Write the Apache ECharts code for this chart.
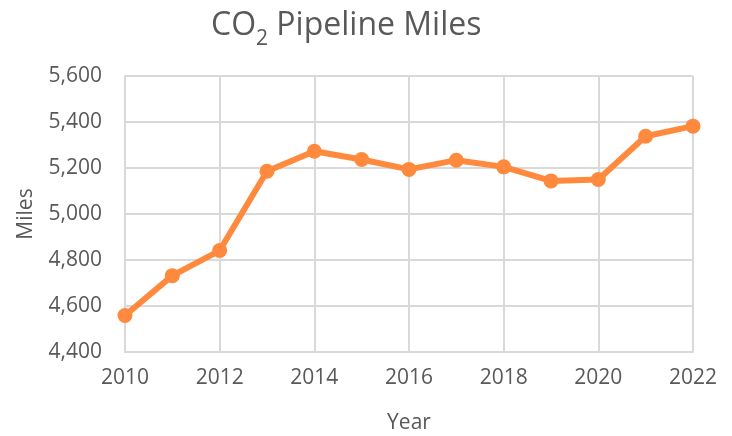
<!DOCTYPE html>
<html>
<head>
<meta charset="utf-8">
<script src="https://cdn.jsdelivr.net/npm/echarts@6/dist/echarts.min.js"></script>
<style>html,body{margin:0;padding:0;background:#fff}#c{width:732px;height:436px}</style>
</head>
<body>
<div id="c"></div>
<script>
const years = [2010, 2011, 2012, 2013, 2014, 2015, 2016, 2017, 2018, 2019, 2020, 2021, 2022];
const miles = [4559, 4732, 4841, 5186, 5273, 5237, 5194, 5234, 5205, 5144, 5150, 5338, 5382];
const yTicks = { min: 4400, max: 5600, interval: 200 };
const xTicks = { min: 2010, max: 2022, interval: 2 };

const FONT = '"Open Sans", sans-serif';
const TXT = '#595959';
const GRIDC = '#D9D9D9';
const chart = echarts.init(document.getElementById('c'), null, { renderer: 'canvas' });
chart.setOption({
  animation: false,
  backgroundColor: '#fff',
  title: {
    text: '{a|CO}{b|2}{a| Pipeline Miles}',
    left: 206,
    top: 5,
    textStyle: {
      fontWeight: 'normal',
      rich: {
        a: { fontFamily: FONT, fontSize: 32, fontWeight: 'normal', color: TXT, verticalAlign: 'bottom' },
        b: { fontFamily: FONT, fontSize: 21, fontWeight: 'normal', color: TXT, verticalAlign: 'bottom', padding: [0, 0, -8, 0] }
      }
    }
  },
  grid: { left: 125, right: 39, top: 76, bottom: 84, containLabel: false, outerBoundsMode: 'none' },
  xAxis: {
    type: 'value',
    min: xTicks.min, max: xTicks.max, interval: xTicks.interval,
    name: 'Year', nameLocation: 'middle', nameGap: 61,
    nameTextStyle: { fontFamily: FONT, fontSize: 21, color: TXT },
    axisLine: { show: true, lineStyle: { color: GRIDC, width: 2 } },
    axisTick: { show: false },
    splitLine: { show: true, lineStyle: { color: GRIDC, width: 2 } },
    axisLabel: { fontFamily: FONT, fontSize: 21, color: TXT, margin: 16, formatter: v => String(v) }
  },
  yAxis: {
    type: 'value',
    min: yTicks.min, max: yTicks.max, interval: yTicks.interval,
    name: 'Miles', nameLocation: 'middle', nameGap: 88, nameRotate: 90,
    nameTextStyle: { fontFamily: FONT, fontSize: 21, color: TXT },
    axisLine: { show: true, lineStyle: { color: GRIDC, width: 2 } },
    axisTick: { show: false },
    splitLine: { show: true, lineStyle: { color: GRIDC, width: 2 } },
    axisLabel: { fontFamily: FONT, fontSize: 21, color: TXT, margin: 23,
      formatter: v => v.toLocaleString('en-US') }
  },
  series: [{
    type: 'line',
    data: years.map((y, i) => [y, miles[i]]),
    symbol: 'circle',
    symbolSize: 15,
    lineStyle: { color: '#FF8A3D', width: 6 },
    itemStyle: { color: '#FF8A3D' },
    clip: false
  }]
});
</script>
</body>
</html>
